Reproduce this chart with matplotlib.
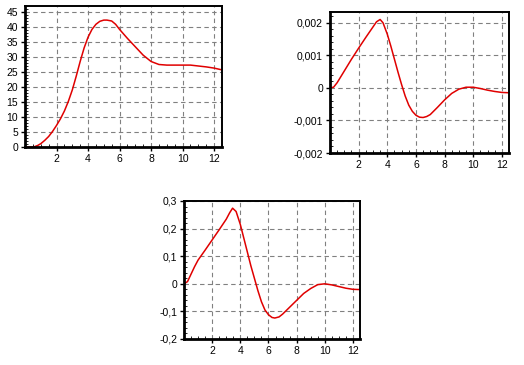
import matplotlib.pyplot as plt
from matplotlib.ticker import FixedLocator, FixedFormatter, MultipleLocator

plt.rcParams['font.family'] = ['Liberation Sans', 'DejaVu Sans']

# --- top-left chart
x1 = [0, 0.55, 0.8, 1.0, 1.25, 1.5, 1.75, 2.0, 2.25, 2.5, 2.75, 3.0, 3.25, 3.5,
      3.75, 4.0, 4.25, 4.5, 4.75, 5.0, 5.2, 5.5, 5.75, 6.0, 6.5, 7.0, 7.5, 8.0,
      8.5, 9.0, 10.0, 10.5, 11.0, 11.5, 12.0, 12.5]
y1 = [0, 0, 0.5, 1.1, 2.2, 3.5, 5.2, 7.2, 9.4, 12.0, 15.2, 19.0, 23.6, 28.5,
      33.0, 36.6, 39.2, 40.9, 41.9, 42.3, 42.3, 42.0, 40.9, 39.2, 36.2, 33.4,
      30.6, 28.5, 27.5, 27.3, 27.3, 27.3, 27.0, 26.7, 26.3, 25.7]
yt1 = [0, 5, 10, 15, 20, 25, 30, 35, 40, 45]
yl1 = ["0", "5", "10", "15", "20", "25", "30", "35", "40", "45"]

# --- top-right chart
x2 = [0, 0.25, 0.5, 1.0, 1.5, 2.0, 2.5, 3.0, 3.25, 3.5, 3.7, 4.0, 4.25, 4.5, 4.75,
      5.0, 5.25, 5.5, 5.75, 6.0, 6.25, 6.5, 6.75, 7.0, 7.5, 8.0, 8.5, 9.0, 9.5,
      10.0, 10.5, 11.0, 11.5, 12.0, 12.5]
y2 = [0, 0.00002, 0.00016, 0.00052, 0.00088, 0.00122, 0.00155, 0.00187, 0.00203,
      0.0021, 0.002, 0.00165, 0.00128, 0.00088, 0.00048, 0.0001, -0.00025,
      -0.00053, -0.00072, -0.00084, -0.0009, -0.00091, -0.00088, -0.00082,
      -0.0006, -0.00037, -0.00017, -0.00004, 0.00002, 0.00002, -0.00002,
      -0.00007, -0.00011, -0.00014, -0.00015]
yt2 = [-0.002, -0.001, 0, 0.001, 0.002]
yl2 = ["-0,002", "-0,001", "0", "0,001", "0,002"]

# --- bottom chart
x3 = [0, 0.25, 0.5, 0.75, 1.0, 1.5, 2.0, 2.5, 3.0, 3.25, 3.45, 3.7, 4.0, 4.25,
      4.5, 4.75, 5.0, 5.25, 5.5, 5.75, 6.0, 6.25, 6.45, 6.75, 7.0, 7.5, 8.0,
      8.5, 9.0, 9.5, 10.0, 10.5, 11.0, 11.5, 12.0, 12.5]
y3 = [0, 0.008, 0.035, 0.062, 0.086, 0.122, 0.159, 0.196, 0.234, 0.258, 0.274,
      0.262, 0.215, 0.165, 0.115, 0.065, 0.02, -0.025, -0.065, -0.095, -0.112,
      -0.122, -0.124, -0.12, -0.11, -0.085, -0.06, -0.035, -0.017, -0.003, 0.0,
      -0.004, -0.01, -0.016, -0.02, -0.021]
yt3 = [-0.2, -0.1, 0, 0.1, 0.2, 0.3]
yl3 = ["-0,2", "-0,1", "0", "0,1", "0,2", "0,3"]

xt = [2, 4, 6, 8, 10, 12]
xl = ["2", "4", "6", "8", "10", "12"]


def style(ax, x, y, yticks, ylabels, ylim, yminor):
    ax.plot(x, y, color="#e00000", linewidth=1.1)
    ax.set_xlim(0, 12.5)
    ax.set_ylim(*ylim)
    ax.xaxis.set_major_locator(FixedLocator(xt))
    ax.xaxis.set_major_formatter(FixedFormatter(xl))
    ax.yaxis.set_major_locator(FixedLocator(yticks))
    ax.yaxis.set_major_formatter(FixedFormatter(ylabels))
    ax.xaxis.set_minor_locator(MultipleLocator(0.5))
    ax.yaxis.set_minor_locator(MultipleLocator(yminor))
    ax.grid(True, which="major", color="#808080", linestyle=(0, (4, 3)), linewidth=0.8)
    ax.tick_params(which="major", direction="out", length=3, width=1, labelsize=7.5, pad=2)
    ax.tick_params(which="minor", direction="in", length=2, width=0.6)
    for s in ("left", "bottom"):
        ax.spines[s].set_linewidth(2.0)
    for s in ("top", "right"):
        ax.spines[s].set_linewidth(1.4)


fig = plt.figure(figsize=(5.24, 3.65), dpi=100)
ax1 = fig.add_axes([25 / 524, 218 / 365, 197 / 524, 141 / 365])
ax2 = fig.add_axes([330 / 524, 212 / 365, 179 / 524, 141 / 365])
ax3 = fig.add_axes([184 / 524, 26 / 365, 176 / 524, 138 / 365])

style(ax1, x1, y1, yt1, yl1, (0, 47), 1)
style(ax2, x2, y2, yt2, yl2, (-0.002, 0.00233), 0.0002)
style(ax3, x3, y3, yt3, yl3, (-0.2, 0.3), 0.02)

fig.savefig("out.png", dpi=100)
